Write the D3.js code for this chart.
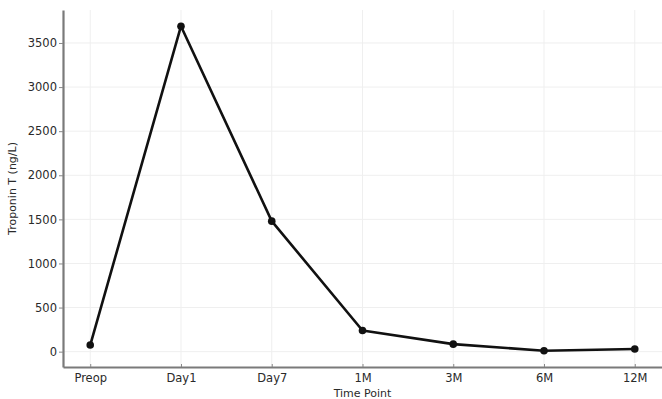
<!DOCTYPE html>
<html>
<head>
<meta charset="utf-8">
<script src="https://cdn.jsdelivr.net/npm/d3@7"></script>
<style>
  html, body { margin: 0; padding: 0; background: #fff; }
  svg { display: block; font-family: "DejaVu Sans", sans-serif; }
</style>
</head>
<body>
<svg id="chart" width="662" height="399"></svg>
<script>
// Troponin T measurements over follow-up
const timePoints = ["Preop", "Day1", "Day7", "1M", "3M", "6M", "12M"];
const troponin = [75, 3690, 1480, 240, 85, 10, 30];
const yTicks = [0, 500, 1000, 1500, 2000, 2500, 3000, 3500];

const svg = d3.select("#chart");
const margin = { left: 63, right: 0, top: 10, bottom: 32 };
const W = 662, H = 399;
const plotW = W - margin.left - margin.right;
const plotH = H - margin.top - margin.bottom;

// Categorical positions with a 5% pad at each end
const idx = d3.range(timePoints.length);
const x = d3.scaleLinear()
  .domain([-0.3, timePoints.length - 1 + 0.3])
  .range([margin.left, margin.left + plotW]);

const yMin = d3.min(troponin), yMax = d3.max(troponin);
const pad = (yMax - yMin) * 0.05;
const y = d3.scaleLinear()
  .domain([yMin - pad, yMax + pad])
  .range([margin.top + plotH, margin.top]);

// Grid
const grid = svg.append("g").attr("stroke", "#efefef").attr("stroke-width", 1);
grid.selectAll(".gx").data(idx).enter().append("line")
  .attr("x1", d => x(d)).attr("x2", d => x(d))
  .attr("y1", margin.top).attr("y2", margin.top + plotH);
grid.selectAll(".gy").data(yTicks).enter().append("line")
  .attr("x1", margin.left).attr("x2", margin.left + plotW)
  .attr("y1", d => y(d)).attr("y2", d => y(d));

// Axes
const xAxis = d3.axisBottom(x)
  .tickValues(idx)
  .tickFormat(i => timePoints[i])
  .tickSizeInner(-3).tickSizeOuter(0).tickPadding(7);
const yAxis = d3.axisLeft(y)
  .tickValues(yTicks)
  .tickFormat(d3.format("d"))
  .tickSizeInner(4).tickSizeOuter(0).tickPadding(2);

const gx = svg.append("g")
  .attr("transform", `translate(0,${margin.top + plotH})`)
  .call(xAxis);
const gy = svg.append("g")
  .attr("transform", `translate(${margin.left},0)`)
  .call(yAxis);

[gx, gy].forEach(g => {
  g.select(".domain").attr("stroke", "#7a7a7a").attr("stroke-width", 2.2);
  g.selectAll(".tick line").attr("stroke", "#888").attr("stroke-width", 1);
  g.selectAll(".tick text")
    .attr("fill", "#2a2a2a")
    .style("font-size", "11.5px")
    .style("font-family", "'DejaVu Sans', sans-serif");
});

// Axis titles
svg.append("text")
  .attr("x", x(3)).attr("y", H - 2)
  .attr("text-anchor", "middle")
  .attr("fill", "#2a2a2a")
  .style("font-size", "11px")
  .text("Time Point");

svg.append("text")
  .attr("transform", `translate(16,${margin.top + plotH / 2}) rotate(-90)`)
  .attr("text-anchor", "middle")
  .attr("fill", "#2a2a2a")
  .style("font-size", "11px")
  .text("Troponin T (ng/L)");

// Series line and markers
const line = d3.line()
  .x((d, i) => x(i))
  .y(d => y(d));

svg.append("path")
  .datum(troponin)
  .attr("fill", "none")
  .attr("stroke", "#111")
  .attr("stroke-width", 2.6)
  .attr("stroke-linejoin", "round")
  .attr("d", line);

svg.selectAll(".pt").data(troponin).enter().append("circle")
  .attr("cx", (d, i) => x(i))
  .attr("cy", d => y(d))
  .attr("r", 3.8)
  .attr("fill", "#111");
</script>
</body>
</html>
